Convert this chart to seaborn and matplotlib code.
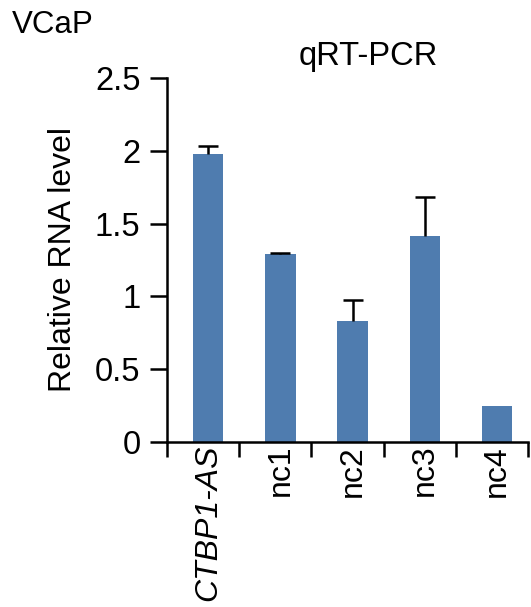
import numpy as np
import pandas as pd
import matplotlib
matplotlib.use("Agg")
import matplotlib.pyplot as plt
import seaborn as sns

categories = ["CTBP1-AS", "nc1", "nc2", "nc3", "nc4"]
values = [1.98, 1.29, 0.83, 1.415, 0.25]
errors = [0.05, 0.01, 0.145, 0.27, 0.0]
yticks = [0, 0.5, 1, 1.5, 2, 2.5]
ytick_labels = ["0", "0.5", "1", "1.5", "2", "2.5"]

sns.set_style("ticks")
plt.rcParams["font.family"] = ["Liberation Sans", "DejaVu Sans"]
plt.rcParams["text.color"] = "black"
plt.rcParams["axes.labelcolor"] = "black"
plt.rcParams["axes.edgecolor"] = "black"
plt.rcParams["xtick.color"] = "black"
plt.rcParams["ytick.color"] = "black"

fig = plt.figure(figsize=(5.31, 6.07), dpi=100)
ax = fig.add_axes([167 / 531, 1 - 442 / 607, (528 - 167) / 531, (442 - 78) / 607])

df = pd.DataFrame({"cat": categories, "val": values})
sns.barplot(data=df, x="cat", y="val", order=categories, color="#4F7CAF",
            saturation=1, width=0.42, ax=ax, errorbar=None)
for p in ax.patches:
    p.set_edgecolor("none")

xs = np.arange(len(categories))
vals = np.array(values)
errs = np.array(errors)
mask = errs > 0
eb = ax.errorbar(xs[mask], vals[mask], yerr=[np.zeros(mask.sum()), errs[mask]],
                 fmt="none", ecolor="black", elinewidth=1.8, capsize=7, capthick=1.8)
# hide the lower caps (only upper error shown)
eb.lines[1][0].set_visible(False)

ax.set_xlim(-0.57, 4.43)
ax.set_ylim(0, 2.5)
ax.set_yticks(yticks)
ax.set_yticklabels(ytick_labels, fontsize=23.5)
ax.set_xticks(xs)
ax.set_xticklabels(categories, fontsize=23, rotation=90, va="top", ha="center")
ax.get_xticklabels()[0].set_style("italic")
ax.tick_params(axis="x", length=0, pad=2)
ax.set_xticks(np.arange(len(categories) + 1) - 0.57, minor=True)
ax.tick_params(axis="x", which="minor", length=11, width=1.8, direction="out")
ax.tick_params(axis="y", length=12, width=1.8, direction="out", pad=7)
ax.set_xlabel("")
ax.set_ylabel("Relative RNA level", fontsize=23)
ax.yaxis.set_label_coords(-0.247, 0.5)
for s in ["left", "bottom"]:
    ax.spines[s].set_linewidth(1.8)
sns.despine(ax=ax)

fig.text(368 / 531, 1 - 56 / 607, "qRT-PCR", fontsize=23.5, ha="center", va="center")
fig.text(12 / 531, 1 - 25 / 607, "VCaP", fontsize=22.5, ha="left", va="center")

fig.savefig("out.png", dpi=100)
